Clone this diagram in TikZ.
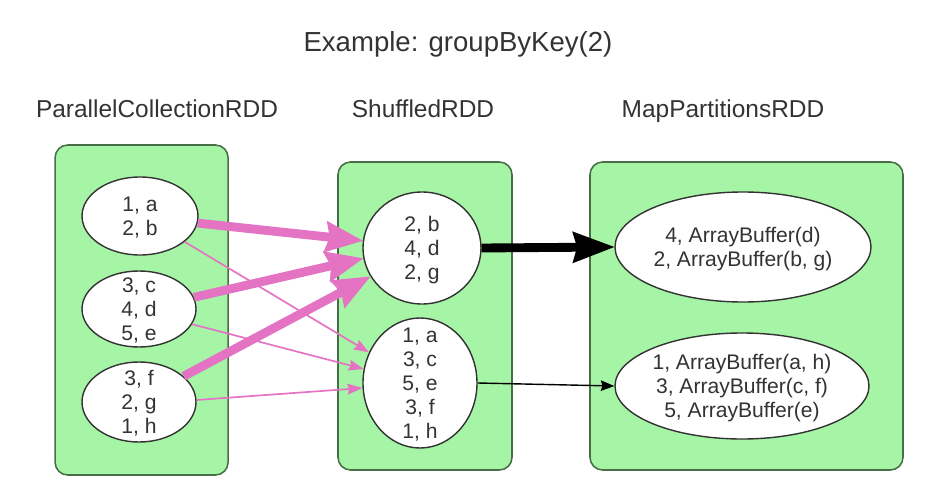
\documentclass[tikz,border=0pt]{standalone}
\usepackage{fontspec}
\setmainfont{Liberation Sans}
\usetikzlibrary{arrows.meta}
\usetikzlibrary{shapes.geometric}
\definecolor{rddgreen}{RGB}{166,245,166}
\definecolor{rddedge}{RGB}{72,110,72}
\definecolor{shufpink}{RGB}{228,115,196}
\definecolor{inkgray}{RGB}{51,51,51}
\newcommand{\kvtext}[1]{\smash{\raisebox{-5.5pt}{\begin{tabular}{@{}c@{}}#1\end{tabular}}}}

\begin{document}
\begin{tikzpicture}[line width=0.8pt,>=Stealth,
  rddpanel/.style={draw=rddedge,fill=rddgreen,line width=1.1pt,rounded corners=9pt,inner sep=0pt},
  pairs/.style={ellipse,draw=inkgray,fill=white,line width=1.0pt,inner sep=0pt,
    font=\fontsize{15}{17}\selectfont,text=inkgray},
  headlabel/.style={anchor=base,inner sep=0pt,font=\fontsize{17.4}{20}\selectfont,text=inkgray},
  heavyshuffle/.style={->,draw=shufpink,line width=6.3pt,
    >={Stealth[length=0.95cm,width=0.8cm,inset=0.12cm,line width=0pt]}},
  lightshuffle/.style={->,draw=shufpink,line width=1.2pt,
    >={Stealth[length=0.38cm,width=0.28cm,inset=0.05cm,line width=0pt]}}]
\useasboundingbox (0,0) rectangle (23.425,12.025);
% ---------- title ----------
\node[anchor=base,inner sep=0pt,font=\fontsize{19.6}{23}\selectfont,text=inkgray] (title)
  at (11.45,10.725) {Example: groupByKey(2)};
% ---------- ParallelCollectionRDD ----------
\node[headlabel] (pchead) at (3.925,9.1) {ParallelCollectionRDD};
\node[rddpanel,minimum width=4.325cm,minimum height=8.25cm] (pcrdd) at (3.54,4.275) {};
\node[pairs,minimum width=2.9cm,minimum height=1.95cm] (pc1) at (3.5,6.625) {\kvtext{1, a\\2, b}};
\node[pairs,minimum width=2.85cm,minimum height=1.9cm] (pc2) at (3.475,4.3) {\kvtext{3, c\\4, d\\5, e}};
\node[pairs,minimum width=2.85cm,minimum height=2.0cm] (pc3) at (3.475,1.975) {\kvtext{3, f\\2, g\\1, h}};
% ---------- ShuffledRDD ----------
\node[headlabel] (shhead) at (10.575,9.1) {ShuffledRDD};
\node[rddpanel,minimum width=4.35cm,minimum height=7.7cm] (shrdd) at (10.625,4.125) {};
\node[pairs,minimum width=2.95cm,minimum height=2.8cm] (sh1) at (10.55,5.825) {\kvtext{2, b\\4, d\\2, g}};
\node[pairs,minimum width=2.85cm,minimum height=3.25cm] (sh2) at (10.5,2.45) {\kvtext{1, a\\3, c\\5, e\\3, f\\1, h}};
% ---------- MapPartitionsRDD ----------
\node[headlabel] (mphead) at (18.075,9.1) {MapPartitionsRDD};
\node[rddpanel,minimum width=7.825cm,minimum height=7.7cm] (mprdd) at (18.6625,4.125) {};
\node[pairs,minimum width=6.4cm,minimum height=2.75cm] (mp1) at (18.575,5.85)
  {\kvtext{4, ArrayBuffer(d)\\2, ArrayBuffer(b, g)}};
\node[pairs,minimum width=6.35cm,minimum height=2.65cm] (mp2) at (18.55,2.375)
  {\kvtext{1, ArrayBuffer(a, h)\\3, ArrayBuffer(c, f)\\5, ArrayBuffer(e)}};
% ---------- shuffle ----------
\draw[lightshuffle] (pc1.-30) -- (sh2.149);
\draw[lightshuffle] (pc2.-16) -- (sh2.166);
\draw[lightshuffle] (pc3.2) -- (sh2.185);
\draw[heavyshuffle] (pc1.-7) -- (sh1.173);
\draw[heavyshuffle] (pc2.12) -- (sh1.190);
\draw[heavyshuffle] (pc3.30) -- (sh1.209);
% ---------- mapPartitions ----------
\draw[->,line width=6.3pt,>={Stealth[length=1.05cm,width=0.8cm,inset=0.12cm,line width=0pt]}]
  (sh1.east) -- (mp1.west);
\draw[->,line width=1.0pt,>={Stealth[length=0.34cm,width=0.27cm,inset=0.04cm,line width=0pt]}]
  (sh2.east) -- (mp2.west);
\end{tikzpicture}
\end{document}
